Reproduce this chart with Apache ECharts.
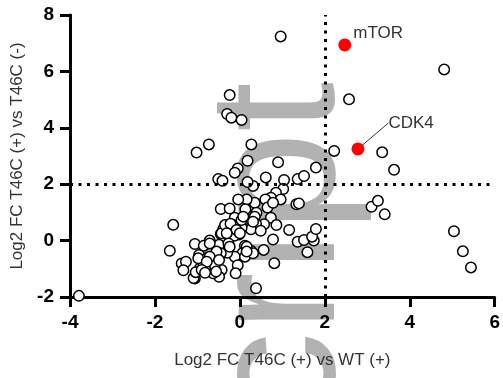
<!DOCTYPE html>
<html><head><meta charset="utf-8">
<script src="https://cdn.jsdelivr.net/npm/echarts@6/dist/echarts.min.js"></script>
<style>html,body{margin:0;padding:0;background:#fff}#c{width:503px;height:378px}</style>
</head><body><div id="c"></div>
<script>
// Background points (Log2 FC vs WT, Log2 FC vs T46C(-))
const xs = [0.96,4.81,2.57,-0.24,-0.30,-0.20,0.04,-0.73,-1.02,0.27,2.22,3.35,3.63,1.79,0.18,0.90,-0.05,-0.12,0.61,-0.51,
  -0.41,0.31,1.04,1.36,1.51,1.02,0.85,0.73,0.96,0.60,0.35,0.16,-0.04,-0.45,-0.24,0.65,0.78,1.33,1.39,0.13,
  0.39,0.35,0.12,-0.12,0.73,0.86,0.57,0.38,0.26,0.04,-0.16,-0.39,-0.02,-0.13,0.49,1.16,0.78,1.36,1.51,1.74,
  1.70,1.79,1.59,0.81,0.56,0.26,0.12,0.06,-0.12,-0.05,-0.10,0.38,-0.45,-0.41,-0.71,-0.49,-0.30,-0.45,-0.56,-0.67,
  -0.86,-0.96,-1.06,-0.63,-0.43,-0.49,-0.94,-1.06,3.10,3.25,3.41,5.04,5.25,5.44,-3.79,-1.57,-1.65,-1.37,-1.27,-1.33,
  -1.09,-1.04,-0.85,-0.43,-0.35,-0.22,-0.08,0.04,0.08,0.00,-0.27,-0.55,-0.86,-0.75,-0.63,-0.59,-0.78,-0.71,0.16,0.12,
  -0.71,0.31,0.31,0.16,-0.98,-0.78,-0.90,-0.82,-0.56,-0.49,-0.24,-0.31,0.18];
const ys = [7.24,6.07,5.01,5.16,4.49,4.36,4.28,3.41,3.12,3.41,3.18,3.13,2.51,2.59,2.83,2.78,2.56,2.41,2.24,2.18,
  2.12,1.94,2.15,2.18,2.29,1.83,1.70,1.52,1.46,1.46,1.34,1.46,1.46,1.12,1.14,1.17,1.34,1.29,1.32,1.11,
  0.99,0.85,0.76,0.81,0.81,0.55,0.58,0.59,0.40,0.46,0.55,0.41,0.22,0.17,0.35,0.38,0.04,-0.04,0.02,0.00,
  0.14,0.41,-0.41,-0.80,-0.33,-0.36,-0.18,-0.45,-0.57,-0.87,-1.16,-1.69,0.23,-0.10,0.00,-0.15,-0.43,-0.45,-0.48,-0.63,
  -0.69,-0.51,-0.12,-1.01,-1.04,-1.28,-0.98,-1.34,1.20,1.41,0.93,0.33,-0.38,-0.95,-1.96,0.56,-0.36,-0.81,-0.75,-1.05,
  -1.33,-1.12,-0.18,0.26,0.55,0.60,0.38,0.73,0.85,0.26,-0.10,-0.39,-0.81,-1.04,-1.16,-0.87,-0.63,-0.57,-0.22,-0.57,
  -0.10,0.67,-0.45,-0.39,-0.63,-0.75,-1.04,-1.14,-1.10,-0.69,-0.22,0.26,2.08];

// Highlighted genes
const hlNames = ['mTOR', 'CDK4'];
const hlX = [2.47, 2.78];
const hlY = [6.94, 3.25];

// Cut-off lines
const cutoffX = 2;
const cutoffY = 2;

// Axes
const xRange = [-4, 6];
const yRange = [-2, 8];
const tickStep = 2;
const xName = 'Log2 FC T46C (+) vs WT (+)';
const yName = 'Log2 FC T46C (+) vs T46C (-)';
const watermark = 'script';

const FONT = '"Liberation Sans", Arial, sans-serif';
const chart = echarts.init(document.getElementById('c'), null, {renderer: 'canvas'});

const axisCommon = {
  type: 'value', interval: tickStep, nameLocation: 'middle',
  nameTextStyle: {fontFamily: FONT, fontSize: 17, color: '#333'},
  axisLine: {show: true, onZero: false, lineStyle: {color: '#000', width: 3}},
  axisTick: {show: true, length: 10, lineStyle: {color: '#000', width: 3}},
  axisLabel: {fontFamily: FONT, fontSize: 19, fontWeight: 'bold', color: '#000', margin: 16},
  splitLine: {show: false}
};

const option = {
  animation: false,
  backgroundColor: '#fff',
  grid: {left: 70, right: 8, top: 15, bottom: 81, containLabel: false},
  xAxis: Object.assign({}, axisCommon, {min: xRange[0], max: xRange[1], name: xName, nameGap: 55}),
  yAxis: Object.assign({}, axisCommon, {min: yRange[0], max: yRange[1], name: yName, nameGap: 44}),
  graphic: [{
    type: 'text', z: -10, silent: true,
    x: 284, y: 82, rotation: Math.PI / 2,
    style: {text: watermark, fontSize: 180, fontFamily: FONT, fill: '#b2b2b2',
      align: 'right', verticalAlign: 'middle', textAlign: 'right', textVerticalAlign: 'middle'}
  }],
  series: [
    {
      type: 'scatter', z: 3,
      data: xs.map((x, i) => [x, ys[i]]),
      symbol: 'circle', symbolSize: 10.5,
      itemStyle: {color: '#fff', borderColor: '#000', borderWidth: 1.5, opacity: 1},
      markLine: {
        silent: true, symbol: 'none', animation: false,
        label: {show: false},
        lineStyle: {color: '#000', width: 3, type: [3, 5.5]},
        data: [{xAxis: cutoffX}, {yAxis: cutoffY}]
      }
    },
    {
      type: 'scatter', z: 4,
      data: hlNames.map((n, i) => ({
        name: n, value: [hlX[i], hlY[i]],
        labelLine: {show: i === 1}
      })),
      symbol: 'circle', symbolSize: 13,
      itemStyle: {color: '#ff0000', opacity: 1},
      label: {show: true, formatter: '{b}', position: 'right', distance: 5,
        fontFamily: FONT, fontSize: 17, color: '#333'},
      labelLine: {show: true, lineStyle: {color: '#333', width: 1}},
      labelLayout: function (p) {
        if (p.dataIndex === 1) return {dx: 19, dy: -26};
        return {dx: -3, dy: -12};
      }
    }
  ]
};
chart.setOption(option);
</script>
</body></html>
